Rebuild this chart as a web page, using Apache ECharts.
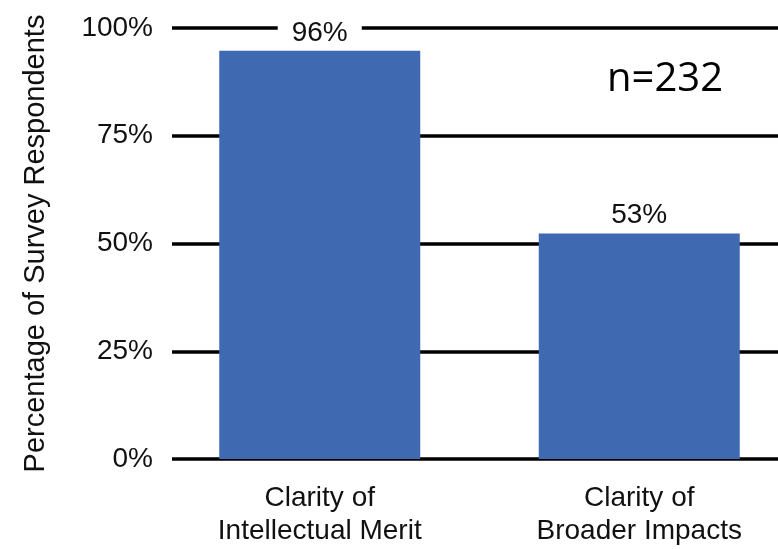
<!DOCTYPE html>
<html>
<head>
<meta charset="utf-8">
<script src="https://cdn.jsdelivr.net/npm/echarts@6/dist/echarts.min.js"></script>
<style>html,body{margin:0;padding:0;background:#fff}#c{width:778px;height:549px}</style>
</head>
<body>
<div id="c"></div>
<script>
var categories = ['Clarity of\nIntellectual Merit', 'Clarity of\nBroader Impacts'];
var barValues = [94.7, 52.3];
var barLabels = ['96%', '53%'];
var yTicks = [0, 25, 50, 75, 100];
var sampleNote = 'n=232';

var chart = echarts.init(document.getElementById('c'));
var font = 'Liberation Sans, Arial, Helvetica, sans-serif';
chart.setOption({
  animation: false,
  backgroundColor: '#fff',
  grid: [
    {left: 172, right: 0, top: 28, bottom: 90, outerBoundsMode: 'none'},
    {left: 160, width: 639, top: 28, bottom: 90, outerBoundsMode: 'none'}
  ],
  xAxis: [
    {gridIndex: 0, type: 'category', data: categories, show: false},
    {gridIndex: 1, type: 'category', data: categories,
     axisLine: {show: false}, axisTick: {show: false},
     axisLabel: {color: '#111', fontFamily: font, fontSize: 28, lineHeight: 33, margin: 23}}
  ],
  yAxis: [
    {gridIndex: 0, type: 'value', min: yTicks[0], max: yTicks[yTicks.length - 1], interval: 25,
     name: 'Percentage of Survey Respondents', nameLocation: 'middle', nameGap: 122,
     nameTextStyle: {color: '#111', fontFamily: font, fontSize: 29},
     axisLine: {show: false}, axisTick: {show: false},
     axisLabel: {formatter: '{value}%', color: '#111', fontFamily: font, fontSize: 28, margin: 19},
     splitLine: {show: true, lineStyle: {color: '#000', width: 3.5}}},
    {gridIndex: 1, type: 'value', min: yTicks[0], max: yTicks[yTicks.length - 1], show: false}
  ],
  series: [{
    type: 'bar', xAxisIndex: 1, yAxisIndex: 1,
    data: barValues, barWidth: 201,
    itemStyle: {color: '#3f69b0'},
    label: {
      show: true, position: 'top', distance: 4,
      formatter: function (p) { return barLabels[p.dataIndex]; },
      color: '#111', fontFamily: font, fontSize: 28,
      backgroundColor: '#fff', padding: [0, 14, 0, 14]
    }
  }],
  graphic: [{
    type: 'text', x: 665, y: 80,
    style: {text: sampleNote, fill: '#000', font: '40px "Open Sans", sans-serif',
            textAlign: 'center', textVerticalAlign: 'middle'}
  }]
});
</script>
</body>
</html>
